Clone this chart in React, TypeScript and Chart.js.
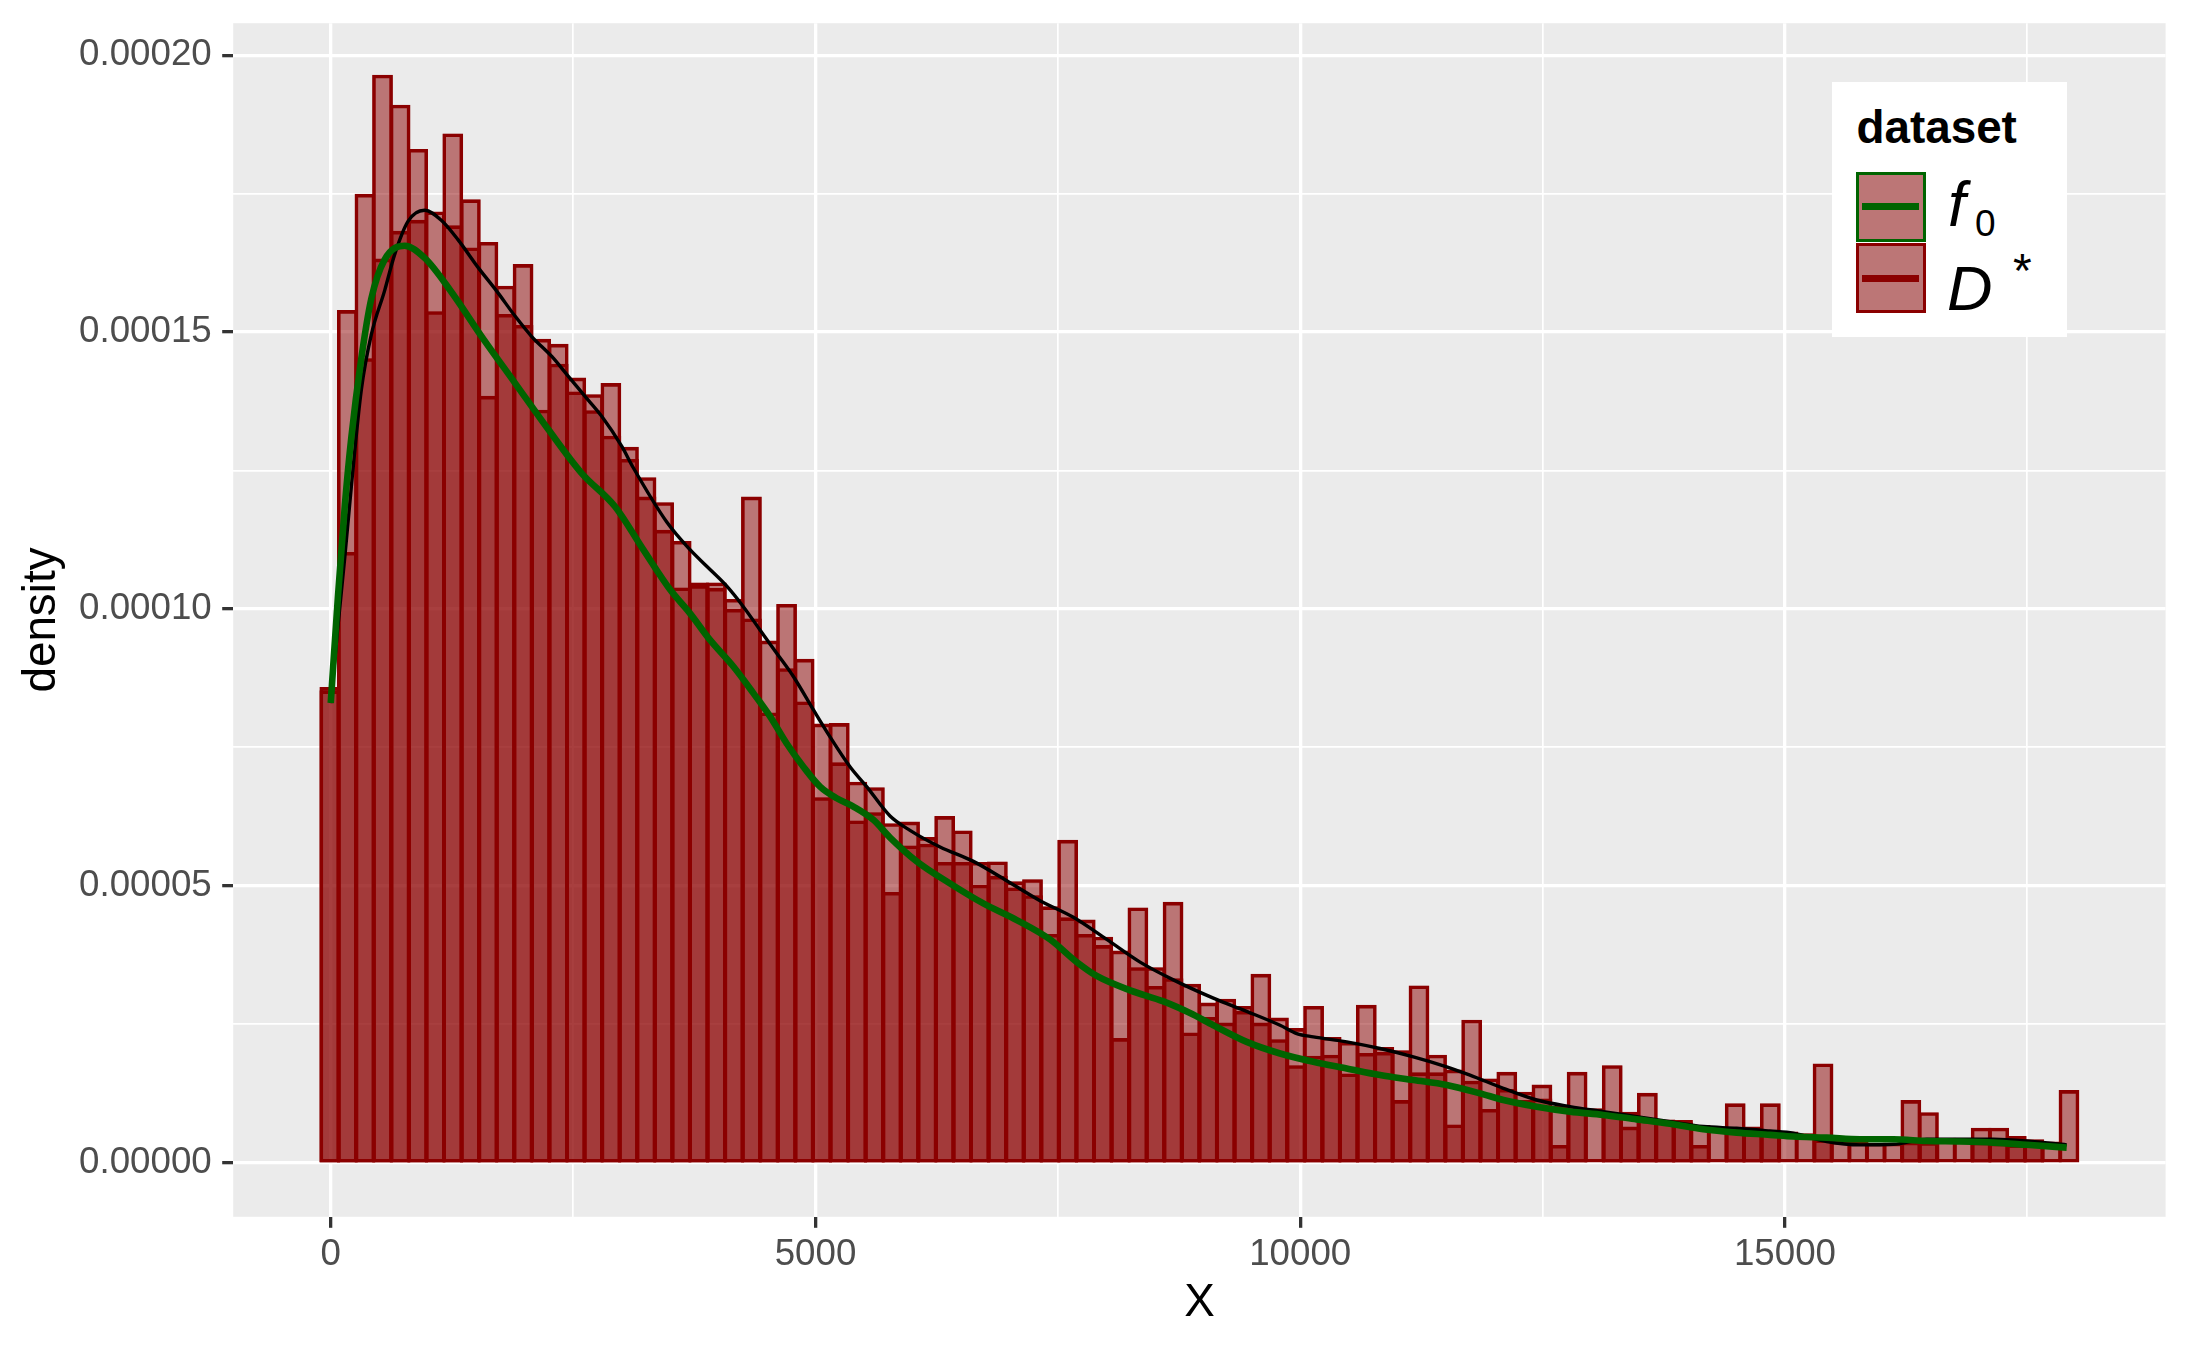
import React, { useEffect, useRef } from 'react';
import { Chart, registerables } from 'chart.js';

Chart.register(...registerables);

const W = 2187;
const H = 1350;
const FONT = "'Liberation Sans', Arial, Helvetica, sans-serif";

// density values are given in units of 1e-5
const UNIT = 1e-5;

// histogram bins (categories)
const BIN_START = -100;
const BIN_WIDTH = 181.2;
const BIN_COUNT = 100;

// histogram heights (×1e-5)
const histDStar = [
  8.56, 15.37, 17.47, 19.62, 19.08, 18.28, 17.15, 18.56, 17.37, 16.6,
  15.81, 16.2, 14.85, 14.76, 14.15, 13.85, 14.05, 12.9, 12.35, 11.9,
  11.2, 10.45, 10.45, 10.15, 12.0, 9.4, 10.06, 9.07, 7.9, 7.91,
  6.85, 6.75, 6.1, 6.13, 5.85, 6.23, 5.97, 5.4, 5.41, 5.05,
  5.09, 4.6, 5.8, 4.36, 4.05, 3.8, 4.58, 3.5, 4.68, 3.2,
  2.86, 2.93, 2.8, 3.38, 2.59, 2.4, 2.8, 2.24, 2.15, 2.82,
  2.06, 2.0, 3.17, 1.92, 1.65, 2.55, 1.49, 1.61, 1.25, 1.38,
  1.0, 1.61, 0.95, 1.73, 0.89, 1.23, 0.75, 0.74, 0.65, 0.58,
  1.04, 0.62, 1.04, 0.53, 0.5, 1.76, 0.36, 0.34, 0.33, 0.33,
  1.1, 0.88, 0.42, 0.42, 0.6, 0.6, 0.45, 0.39, 0.35, 1.28,
];

const histF0 = [
  8.5, 11.0, 14.5, 16.3, 16.8, 17.0, 15.35, 16.9, 16.5, 13.82,
  15.3, 15.1, 13.57, 14.4, 13.9, 13.56, 13.1, 12.68, 12.0, 11.4,
  10.36, 10.4, 10.35, 9.97, 9.8, 8.1, 8.9, 8.3, 6.57, 7.2,
  6.15, 6.3, 4.86, 5.7, 5.73, 5.4, 5.4, 4.99, 5.15, 4.94,
  4.8, 4.1, 4.4, 4.1, 3.9, 2.22, 3.5, 3.16, 3.3, 2.32,
  2.6, 2.5, 2.71, 2.5, 2.2, 1.73, 1.9, 1.92, 1.58, 1.95,
  1.97, 1.1, 1.6, 1.6, 0.66, 1.45, 0.94, 1.3, 1.1, 1.13,
  0.29, 0.95, 0, 0.85, 0.62, 0.75, 0.72, 0.7, 0.29, 0,
  0.57, 0.55, 0.5, 0, 0, 0.39, 0, 0, 0, 0,
  0.35, 0.34, 0, 0, 0.35, 0.33, 0.3, 0.3, 0, 0,
];

// density curve of f0 (green)
const densF0X = [
  0, 75, 146, 212, 315, 418, 556, 762, 968, 1243, 1557, 1901, 2245, 2589, 2932,
  3224, 3500, 3706, 3912, 4153, 4359, 4531, 4703, 4875, 5047, 5219, 5391, 5597,
  5769, 6044, 6388, 6731, 7076, 7419, 7695, 7901, 8246, 8589, 8863, 9104, 9448,
  9792, 10135, 10479, 10823, 11167, 11511, 11855, 12095, 12439, 12783, 13126,
  13470, 13814, 14158, 14502, 14846, 15086, 15430, 15774, 16118, 16462, 16806,
  17149, 17493, 17906,
];
const densF0Y = [
  8.3, 10.24, 11.88, 13.09, 14.52, 15.6, 16.31, 16.56, 16.34, 15.73, 14.92, 14.08,
  13.24, 12.45, 11.85, 11.07, 10.35, 9.92, 9.44, 8.96, 8.48, 8.06, 7.57, 7.15, 6.79,
  6.58, 6.43, 6.19, 5.87, 5.44, 5.04, 4.68, 4.38, 4.03, 3.62, 3.37, 3.11, 2.91, 2.7,
  2.48, 2.18, 1.97, 1.82, 1.7, 1.58, 1.49, 1.4, 1.25, 1.13, 1.01, 0.92, 0.86, 0.78,
  0.7, 0.6, 0.54, 0.5, 0.47, 0.45, 0.42, 0.42, 0.39, 0.38, 0.36, 0.32, 0.27,
];

// density curve of D* (black)
const densDStarX = [
  0, 75, 146, 212, 315, 418, 556, 659, 797, 968, 1140, 1312, 1523, 1712, 1901,
  2073, 2280, 2451, 2623, 2795, 3001, 3121, 3466, 3706, 3878, 4085, 4256, 4428,
  4600, 4772, 4978, 5150, 5356, 5528, 5769, 5975, 6285, 6629, 6973, 7316, 7660,
  8004, 8348, 8691, 9104, 9448, 9792, 9964, 10135, 10479, 10823, 11167, 11511,
  11751, 12095, 12439, 12783, 13126, 13470, 13814, 14158, 14502, 14846, 15086,
  15430, 15774, 16118, 16462, 16806, 17149, 17493, 17906,
];
const densDStarY = [
  8.3, 9.7, 10.95, 12.2, 13.95, 14.95, 15.75, 16.4, 17.0, 17.2, 17.02, 16.67, 16.16,
  15.74, 15.29, 14.92, 14.56, 14.2, 13.84, 13.48, 12.94, 12.55, 11.57, 11.07, 10.77,
  10.41, 10.04, 9.62, 9.2, 8.78, 8.18, 7.69, 7.15, 6.79, 6.26, 6.0, 5.7, 5.44, 5.09,
  4.73, 4.43, 4.03, 3.62, 3.3, 2.97, 2.73, 2.48, 2.33, 2.27, 2.18, 2.06, 1.91, 1.73,
  1.58, 1.34, 1.13, 1.01, 0.92, 0.83, 0.74, 0.65, 0.62, 0.57, 0.53, 0.38, 0.32, 0.33,
  0.42, 0.42, 0.42, 0.39, 0.32,
];

// axes
const X_MIN = -1006;
const X_MAX = 18926;
const Y_MIN = -0.98;
const Y_MAX = 20.58;
const X_TICKS = [0, 2500, 5000, 7500, 10000, 12500, 15000, 17500];
const X_MAJOR_STEP = 5000;
const Y_TICKS = [0, 2.5, 5, 7.5, 10, 12.5, 15, 17.5, 20];
const Y_MAJOR_STEP = 5;

const X_TITLE = 'X';
const Y_TITLE = 'density';
const LEGEND_TITLE = 'dataset';

const BAR_FILL = 'rgba(139,0,0,0.5)';
const BAR_LINE = '#8B0000';
const GREEN = '#006400';

const binCenters = Array.from({ length: BIN_COUNT }, (_, i) => BIN_START + BIN_WIDTH * (i + 0.5));

const panelBg = {
  id: 'panelBg',
  beforeDraw(chart: any) {
    const { ctx, chartArea: a } = chart;
    ctx.save();
    ctx.fillStyle = '#EBEBEB';
    ctx.fillRect(a.left, a.top, a.right - a.left, a.bottom - a.top);
    ctx.restore();
  },
};

function isMajor(v: number, step: number) {
  return Math.abs(v / step - Math.round(v / step)) < 1e-9;
}

function Txt(props: { children: any; left: number; baseline: number; size: number; style?: any }) {
  const { children, left, baseline, size, style } = props;
  return (
    <div
      style={{
        position: 'absolute',
        left,
        top: baseline - 0.8465 * size,
        fontSize: size,
        lineHeight: `${size}px`,
        fontFamily: FONT,
        whiteSpace: 'nowrap',
        color: '#000',
        ...style,
      }}
    >
      {children}
    </div>
  );
}

export default function App() {
  const ref = useRef<HTMLCanvasElement | null>(null);

  useEffect(() => {
    const canvas = ref.current;
    if (!canvas) return;
    const barCommon = {
      type: 'bar' as const,
      grouped: false,
      barPercentage: 1,
      categoryPercentage: 1,
      backgroundColor: BAR_FILL,
      borderColor: BAR_LINE,
      borderWidth: 0.4,
      inflateAmount: 1.6,
      borderSkipped: false,
    };
    const chart = new Chart(canvas, {
      type: 'bar',
      data: {
        datasets: [
          {
            ...barCommon,
            label: 'f0',
            data: binCenters.map((x, i) => ({ x, y: histF0[i] })),
            order: 4,
          } as any,
          {
            ...barCommon,
            label: 'D*',
            data: binCenters.map((x, i) => ({ x, y: histDStar[i] })),
            order: 3,
          } as any,
          {
            type: 'line',
            label: 'D* density',
            data: densDStarX.map((x, i) => ({ x, y: densDStarY[i] })),
            borderColor: '#000000',
            borderWidth: 3.4,
            pointRadius: 0,
            fill: false,
            cubicInterpolationMode: 'monotone',
            borderJoinStyle: 'round',
            order: 2,
          } as any,
          {
            type: 'line',
            label: 'f0 density',
            data: densF0X.map((x, i) => ({ x, y: densF0Y[i] })),
            borderColor: GREEN,
            borderWidth: 6.6,
            pointRadius: 0,
            fill: false,
            cubicInterpolationMode: 'monotone',
            borderJoinStyle: 'round',
            order: 1,
          } as any,
        ],
      },
      options: {
        animation: false,
        responsive: false,
        devicePixelRatio: 1,
        events: [],
        layout: { padding: { left: 0, top: 23.2, right: W - 2165.6, bottom: 0 } },
        plugins: { legend: { display: false }, tooltip: { enabled: false }, title: { display: false } },
        scales: {
          x: {
            type: 'linear',
            min: X_MIN,
            max: X_MAX,
            offset: false,
            border: { display: false },
            afterBuildTicks: (scale: any) => {
              scale.ticks = X_TICKS.map((v) => ({ value: v }));
            },
            afterFit: (scale: any) => {
              scale.height = H - 1216.8;
              scale.paddingLeft = 0;
              scale.paddingRight = 0;
            },
            grid: {
              offset: false,
              color: '#FFFFFF',
              lineWidth: (c: any) => (c.tick && isMajor(c.tick.value, X_MAJOR_STEP) ? 3.3 : 1.7),
              drawTicks: true,
              tickLength: 11,
              tickWidth: 3.3,
              tickColor: (c: any) => (c.tick && isMajor(c.tick.value, X_MAJOR_STEP) ? '#333333' : 'rgba(0,0,0,0)'),
            },
            ticks: {
              autoSkip: false,
              maxRotation: 0,
              minRotation: 0,
              padding: 5,
              color: '#4D4D4D',
              font: { family: FONT, size: 36.7 },
              callback: (v: any) => (isMajor(Number(v), X_MAJOR_STEP) ? String(v) : ''),
            },
            title: {
              display: true,
              text: X_TITLE,
              color: '#000000',
              font: { family: FONT, size: 45.8 },
              padding: { top: 0, bottom: 19.3 },
            },
          },
          y: {
            type: 'linear',
            min: Y_MIN,
            max: Y_MAX,
            border: { display: false },
            afterBuildTicks: (scale: any) => {
              scale.ticks = Y_TICKS.map((v) => ({ value: v }));
            },
            afterFit: (scale: any) => {
              scale.width = 233.2;
              scale.paddingTop = 0;
              scale.paddingBottom = 0;
            },
            grid: {
              color: '#FFFFFF',
              lineWidth: (c: any) => (c.tick && isMajor(c.tick.value, Y_MAJOR_STEP) ? 3.3 : 1.7),
              drawTicks: true,
              tickLength: 11,
              tickWidth: 3.3,
              tickColor: (c: any) => (c.tick && isMajor(c.tick.value, Y_MAJOR_STEP) ? '#333333' : 'rgba(0,0,0,0)'),
            },
            ticks: {
              autoSkip: false,
              padding: 10.5,
              color: '#4D4D4D',
              font: { family: FONT, size: 36.7 },
              callback: (v: any) => (isMajor(Number(v), Y_MAJOR_STEP) ? (Number(v) * UNIT).toFixed(5) : ''),
            },
            title: {
              display: true,
              text: Y_TITLE,
              color: '#000000',
              font: { family: FONT, size: 45.8 },
              padding: { top: 14.4, bottom: 0 },
            },
          },
        },
      } as any,
      plugins: [panelBg],
    });
    return () => chart.destroy();
  }, []);

  const keyFill = 'rgb(188,118,118)';
  return (
    <div
      style={{
        position: 'fixed',
        left: 0,
        top: 0,
        width: W,
        height: H,
        background: '#FFFFFF',
        overflow: 'hidden',
      }}
    >
      <canvas ref={ref} width={W} height={H} style={{ position: 'absolute', left: 0, top: 0, width: W, height: H }} />
      {/* legend */}
      <div style={{ position: 'absolute', left: 1832, top: 82, width: 235, height: 255, background: '#FFFFFF' }} />
      <Txt left={1856.5} baseline={144} size={45.8} style={{ fontWeight: 'bold' }}>
        {LEGEND_TITLE}
      </Txt>
      {/* key f0 */}
      <div
        style={{
          position: 'absolute',
          left: 1856,
          top: 171.7,
          width: 70,
          height: 70,
          boxSizing: 'border-box',
          border: `3.3px solid ${GREEN}`,
          background: keyFill,
        }}
      />
      <div style={{ position: 'absolute', left: 1861.7, top: 203.3, width: 57.3, height: 7, background: GREEN }} />
      {/* key D* */}
      <div
        style={{
          position: 'absolute',
          left: 1856,
          top: 243.3,
          width: 70,
          height: 70,
          boxSizing: 'border-box',
          border: `3.3px solid ${BAR_LINE}`,
          background: keyFill,
        }}
      />
      <div style={{ position: 'absolute', left: 1861.7, top: 275, width: 57.3, height: 7, background: BAR_LINE }} />
      {/* labels */}
      <Txt left={1948} baseline={226.7} size={63} style={{ fontStyle: 'italic' }}>
        f
      </Txt>
      <Txt left={1975} baseline={236.7} size={37}>
        0
      </Txt>
      <Txt left={1947} baseline={310} size={63} style={{ fontStyle: 'italic' }}>
        D
      </Txt>
      <Txt left={2013} baseline={288} size={48}>
        *
      </Txt>
    </div>
  );
}
